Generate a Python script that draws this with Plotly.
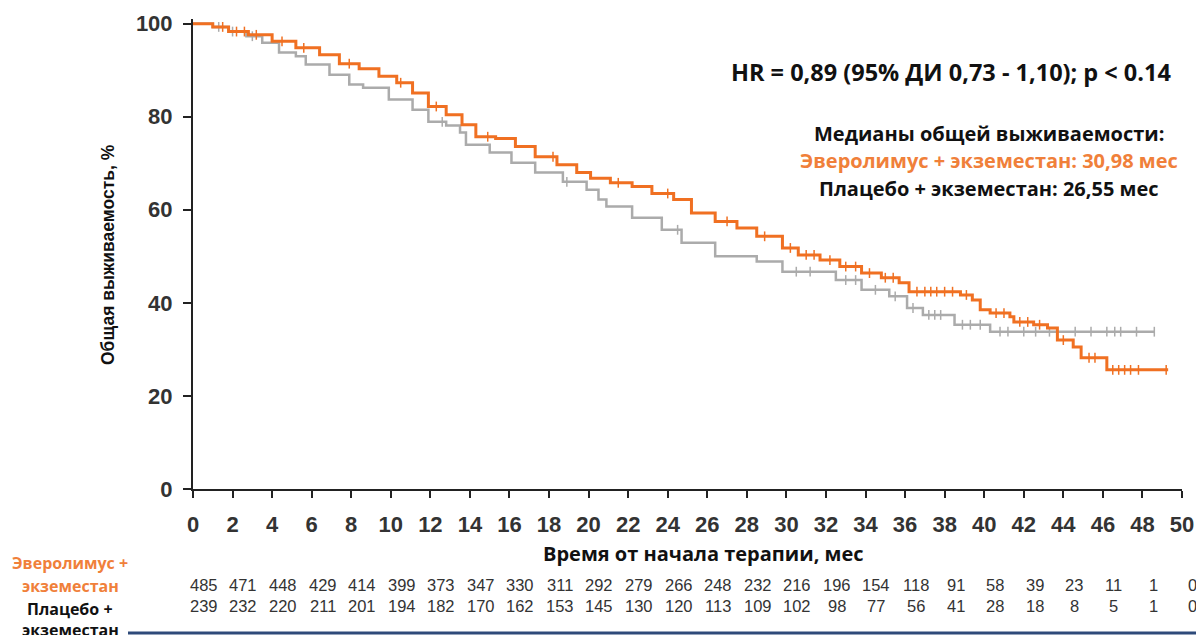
import plotly.graph_objects as go

# ---------------- data ----------------
evero_t = [0, 1.0, 1.8, 2.8, 4.0, 5.2, 6.4, 7.4, 8.4, 9.4, 10.3, 11.1, 11.9, 12.8, 13.6, 14.3,
           15.3, 16.3, 17.3, 18.4, 19.4, 20.1, 21.1, 22.2, 23.2, 24.3, 25.2, 26.4, 27.5,
           28.5, 29.8, 30.6, 31.7, 32.7, 33.8, 34.8, 35.7, 36.2, 38.8, 39.4, 39.8, 40.3, 41.3,
           41.5, 42.5, 43.2, 43.7, 44.5, 44.9, 46.2, 49.3]
evero_s = [100, 99.3, 98.3, 97.6, 96.2, 94.8, 93.3, 91.4, 90.3, 88.7, 87.3, 85.1, 82.2, 80.4, 78.3, 75.7,
           75.3, 73.6, 71.4, 69.7, 68.0, 66.8, 65.8, 65.0, 63.5, 62.2, 59.3, 57.5, 56.1,
           54.3, 51.8, 50.3, 49.2, 47.8, 46.4, 45.4, 44.3, 42.4, 41.7, 40.6, 38.5, 37.8, 37.0,
           35.9, 35.3, 34.6, 32.0, 30.5, 28.2, 25.6, 25.6]

placebo_t = [0, 1.0, 1.8, 2.7, 3.5, 4.35, 5.2, 5.7, 6.9, 7.9, 8.6, 9.9, 11.1, 11.9, 12.8, 13.5,
             13.8, 15.0, 16.1, 17.3, 18.7, 19.9, 20.5, 20.9, 22.2, 23.7, 24.7, 26.4,
             28.5, 29.8, 32.5, 33.8, 35.2, 36.1, 36.9, 38.5, 40.3, 48.6]
placebo_s = [100, 99.3, 98.3, 97.3, 95.9, 93.8, 93.0, 91.2, 89.0, 86.9, 86.2, 83.7, 81.5, 78.9, 78.1, 76.6,
             74.0, 72.3, 70.1, 68.0, 66.0, 64.3, 62.2, 60.7, 58.3, 55.7, 52.9, 50.0,
             48.9, 46.7, 44.9, 42.8, 41.4, 38.9, 37.4, 35.3, 33.8, 33.8]

evero_censor = [1.5, 2.2, 2.6, 3.2, 4.5, 5.6, 7.9, 10.5, 12.3, 14.9, 18.2, 21.5, 24.0, 27.0, 28.9,
                30.2, 31.0, 31.4, 32.2, 33.0, 33.5, 34.2, 35.0, 35.4, 36.6, 37.0, 37.3, 37.6, 38.0,
                38.4, 39.1, 40.6, 41.0, 41.8, 42.2, 42.8, 44.0, 45.3, 45.6, 46.5, 46.8, 47.1, 47.4,
                47.8, 49.2]
placebo_censor = [1.3, 2.0, 3.0, 12.6, 18.9, 24.5, 30.5, 31.2, 33.0, 33.5, 34.5, 35.5, 36.4, 37.2,
                  37.5, 37.8, 38.9, 39.3, 39.8, 40.8, 41.2, 42.0, 42.6, 43.3, 44.6, 45.4, 46.2,
                  46.6, 46.9, 47.7, 48.6]

risk_times = list(range(0, 51, 2))
risk_evero = [485, 471, 448, 429, 414, 399, 373, 347, 330, 311, 292, 279, 266, 248, 232, 216,
              196, 154, 118, 91, 58, 39, 23, 11, 1, 0]
risk_placebo = [239, 232, 220, 211, 201, 194, 182, 170, 162, 153, 145, 130, 120, 113, 109, 102,
                98, 77, 56, 41, 28, 18, 8, 5, 1, 0]

x_ticks = list(range(0, 51, 2))
y_ticks = [0, 20, 40, 60, 80, 100]

X_MAX = 50
ORANGE = "#F07022"
ORANGE_TXT = "#F0803A"
GRAY = "#ABABAB"
TXT_FONT = "Open Sans"


def step_value(times, surv, t):
    v = surv[0]
    for ti, si in zip(times, surv):
        if ti <= t:
            v = si
        else:
            break
    return v


fig = go.Figure()

fig.add_trace(go.Scatter(x=placebo_t, y=placebo_s, mode="lines", line=dict(color=GRAY, width=2.5, shape="hv"),
                         showlegend=False, hoverinfo="skip"))
fig.add_trace(go.Scatter(x=placebo_censor, y=[step_value(placebo_t, placebo_s, t) for t in placebo_censor],
                         mode="markers", marker=dict(symbol="line-ns", size=7, line=dict(color=GRAY, width=1.5)),
                         showlegend=False, hoverinfo="skip"))
fig.add_trace(go.Scatter(x=evero_t, y=evero_s, mode="lines", line=dict(color=ORANGE, width=3, shape="hv"),
                         showlegend=False, hoverinfo="skip"))
fig.add_trace(go.Scatter(x=evero_censor, y=[step_value(evero_t, evero_s, t) for t in evero_censor],
                         mode="markers", marker=dict(symbol="line-ns", size=7, line=dict(color=ORANGE, width=1.5)),
                         showlegend=False, hoverinfo="skip"))

# page offset (body margin) is 8px; screen coordinates below are converted to paper coords
OFF = 8
FIG_W = 1204 - OFF
FIG_H = 635 - OFF
PLOT_BOTTOM = 489   # screen px
PLOT_H = 470
PLOT_L = 193        # screen px
PLOT_W = 989


def py(pix):
    return (PLOT_BOTTOM - pix) / PLOT_H


def px(pix):
    return (pix - PLOT_L) / PLOT_W


annotations = []
# risk table
for t, a, b in zip(risk_times, risk_evero, risk_placebo):
    xp = (t + 0.55) / X_MAX
    annotations.append(dict(x=xp, y=py(585), xref="paper", yref="paper", text=str(a), showarrow=False,
                            font=dict(family="Liberation Sans", size=16.5, color="#333333"), xanchor="center",
                            yanchor="middle"))
    annotations.append(dict(x=xp, y=py(606), xref="paper", yref="paper", text=str(b), showarrow=False,
                            font=dict(family="Liberation Sans", size=16.5, color="#333333"), xanchor="center",
                            yanchor="middle"))

left_labels = [("Эверолимус +", 563, ORANGE_TXT), ("экземестан", 586, ORANGE_TXT),
               ("Плацебо +", 609, "#111111"), ("экземестан", 630, "#111111")]
for txt, yy, col in left_labels:
    annotations.append(dict(x=px(70), y=py(yy), xref="paper", yref="paper", text=txt, showarrow=False,
                            font=dict(family=TXT_FONT, size=16, color=col, weight="bold"),
                            xanchor="center", yanchor="middle"))

annotations.append(dict(x=px(703), y=py(553), xref="paper", yref="paper", text="Время от начала терапии, мес",
                        showarrow=False, font=dict(family=TXT_FONT, size=20, color="#111111", weight="bold"),
                        xanchor="center", yanchor="middle"))
annotations.append(dict(x=px(108), y=py(255), xref="paper", yref="paper", text="Общая выживаемость, %",
                        showarrow=False, textangle=-90,
                        font=dict(family="Liberation Sans", size=17.5, color="#111111", weight="bold"),
                        xanchor="center", yanchor="middle"))
annotations.append(dict(x=px(951), y=py(72), xref="paper", yref="paper",
                        text="HR = 0,89 (95% ДИ 0,73 - 1,10); p < 0.14", showarrow=False,
                        font=dict(family=TXT_FONT, size=23.5, color="#111111", weight="bold"),
                        xanchor="center", yanchor="middle"))
annotations.append(dict(x=px(989), y=py(133), xref="paper", yref="paper",
                        text="Медианы общей выживаемости:", showarrow=False,
                        font=dict(family=TXT_FONT, size=20, color="#111111", weight="bold"),
                        xanchor="center", yanchor="middle"))
annotations.append(dict(x=px(989), y=py(160), xref="paper", yref="paper",
                        text="Эверолимус + экземестан: 30,98 мес", showarrow=False,
                        font=dict(family=TXT_FONT, size=20, color=ORANGE_TXT, weight="bold"),
                        xanchor="center", yanchor="middle"))
annotations.append(dict(x=px(989), y=py(189), xref="paper", yref="paper",
                        text="Плацебо + экземестан: 26,55 мес", showarrow=False,
                        font=dict(family=TXT_FONT, size=20, color="#111111", weight="bold"),
                        xanchor="center", yanchor="middle"))

fig.update_layout(
    width=FIG_W, height=FIG_H,
    margin=dict(l=PLOT_L - OFF, r=FIG_W - (PLOT_L - OFF) - PLOT_W, t=(PLOT_BOTTOM - PLOT_H) - OFF,
                b=FIG_H - (PLOT_BOTTOM - OFF)),
    paper_bgcolor="white", plot_bgcolor="white",
    annotations=annotations,
    shapes=[dict(type="line", xref="paper", yref="paper", x0=px(128), x1=px(1210), y0=py(633), y1=py(633),
                 line=dict(color="#2E4A7A", width=3))],
    showlegend=False,
)
fig.update_xaxes(range=[0, X_MAX], tickvals=x_ticks, ticktext=[str(v) for v in x_ticks], automargin=False,
                 showgrid=False, zeroline=False, showline=True, linecolor="#222222", linewidth=2,
                 ticks="outside", ticklen=7, tickwidth=2, tickcolor="#222222",
                 tickfont=dict(family="Liberation Sans", size=22, color="#333333", weight="bold"),
                 ticklabelstandoff=8)
fig.update_yaxes(range=[0, 101], tickvals=y_ticks, ticktext=[str(v) for v in y_ticks], automargin=False,
                 showgrid=False, zeroline=False, showline=True, linecolor="#222222", linewidth=2,
                 ticks="outside", ticklen=8, tickwidth=2, tickcolor="#222222",
                 tickfont=dict(family="Liberation Sans", size=22, color="#333333", weight="bold"),
                 ticklabelstandoff=6)

fig.write_html("out.html")
